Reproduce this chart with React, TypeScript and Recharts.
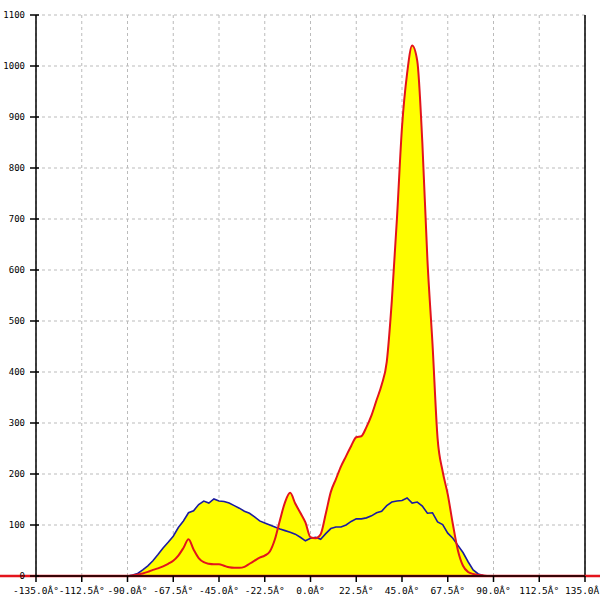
import {
  Area,
  CartesianGrid,
  ComposedChart,
  Line,
  ReferenceLine,
  XAxis,
  YAxis,
} from 'recharts';

const ANGLES = [
  -92.5, -90, -87.5, -85, -82.5, -80, -77.5, -75, -72.5, -70, -67.5, -65, -62.5, -60, -57.5,
  -55, -52.5, -50, -47.5, -45, -42.5, -40, -37.5, -35, -32.5, -30, -27.5, -25, -22.5, -20,
  -17.5, -15, -12.5, -10, -7.5, -5, -2.5, 0, 2.5, 5, 7.5, 10, 12.5, 15, 17.5, 20, 22.5, 25,
  27.5, 30, 32.5, 35, 37.5, 40, 42.5, 45, 47.5, 50, 52.5, 55, 57.5, 60, 62.5, 65, 67.5, 70,
  72.5, 75, 77.5, 80, 82.5, 85, 87.5, 90,
];

const BLUE = [
  0, 0, 2, 5, 12, 20, 30, 42, 55, 66, 78, 95, 108, 124, 128,
  140, 147, 143, 151, 147, 146, 143, 138, 133, 127, 123, 116, 108, 104, 100,
  96, 92, 89, 86, 82, 76, 69, 74, 76, 72, 83, 93, 96, 96, 100, 107, 112, 112,
  114, 118, 124, 127, 138, 145, 147, 148, 153, 143, 145, 137, 123, 124, 106, 101, 84, 74,
  60, 46, 28, 12, 4, 1, 0, 0,
];

const RED = [
  0, 0, 1, 3, 5, 8, 12, 15, 19, 24, 30, 40, 55, 72, 52,
  35, 27, 24, 23, 23, 20, 17, 16, 16, 18, 24, 30, 36, 40, 48,
  72, 110, 145, 163, 142, 124, 105, 76, 74, 82, 122, 165, 190, 215, 235, 255, 272, 274,
  292, 315, 345, 375, 420, 540, 700, 880, 985, 1040, 1010, 850, 620, 455, 270, 205, 160, 102,
  50, 20, 8, 4, 2, 1, 0, 0,
];

const X_TICKS = [-135, -112.5, -90, -67.5, -45, -22.5, 0, 22.5, 45, 67.5, 90, 112.5, 135];
const Y_TICKS = [0, 100, 200, 300, 400, 500, 600, 700, 800, 900, 1000, 1100];

const data = ANGLES.map((a, i) => ({ angle: a, blue: BLUE[i], red: RED[i] }));

const FONT = '"DejaVu Sans Mono", monospace';

function YTick(props: any) {
  const { x, y, payload } = props;
  return (
    <g>
      <line x1={x - 6} x2={x + 3} y1={y} y2={y} stroke="#000" strokeWidth={1.5} />
      <text x={x - 11} y={y} dy={3} textAnchor="end" fontSize={9} fontFamily={FONT} fill="#000">
        {payload.value}
      </text>
    </g>
  );
}

function XTick(props: any) {
  const { x, y, payload } = props;
  return (
    <g>
      <line x1={x} x2={x} y1={y} y2={y + 6} stroke="#000" strokeWidth={1.5} />
      <text x={x} y={y + 18} textAnchor="middle" fontSize={9.5} fontFamily={FONT} fill="#000">
        {`${Number(payload.value).toFixed(1)}Â°`}
      </text>
    </g>
  );
}

export default function App() {
  return (
    <div style={{ position: 'absolute', left: 0, top: 0, width: 600, height: 600, background: '#fff' }}>
      <ComposedChart width={600} height={600} data={data} margin={{ top: 15, right: 15, left: 0, bottom: 0 }}>
        <CartesianGrid stroke="#bbbbbb" strokeDasharray="3 3" />
        <XAxis
          dataKey="angle"
          type="number"
          domain={[-135, 135]}
          ticks={X_TICKS}
          interval={0}
          height={24}
          tickSize={0}
          tickMargin={0}
          tickLine={false}
          tick={<XTick />}
          axisLine={{ stroke: '#000', strokeWidth: 1.5 }}
        />
        <YAxis
          type="number"
          domain={[0, 1100]}
          ticks={Y_TICKS}
          interval={0}
          width={36}
          tickSize={0}
          tickMargin={0}
          tickLine={false}
          tick={<YTick />}
          axisLine={{ stroke: '#000', strokeWidth: 1.5 }}
        />
        <Area type="monotone" dataKey="red" stroke="none" fill="#ffff00" fillOpacity={1} isAnimationActive={false} />
        <Area type="linear" dataKey="blue" stroke="none" fill="#ffff00" fillOpacity={1} isAnimationActive={false} />
        <ReferenceLine x={135} stroke="#000" strokeWidth={1.5} />
        <Line type="linear" dataKey="blue" stroke="#1c1ca0" strokeWidth={1.6} dot={false} isAnimationActive={false} />
        <Line type="monotone" dataKey="red" stroke="#e3141c" strokeWidth={2} dot={false} isAnimationActive={false} />
        <ReferenceLine
          segment={[{ x: -170, y: 0 }, { x: 170, y: 0 }]}
          ifOverflow="visible"
          stroke="#e3141c"
          strokeWidth={2.5}
        />
      </ComposedChart>
    </div>
  );
}
